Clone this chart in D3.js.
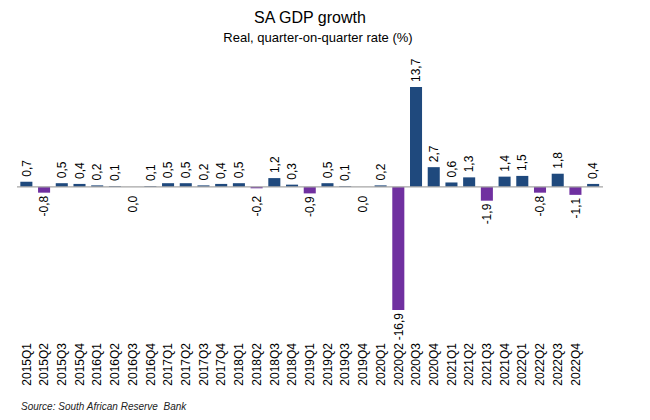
<!DOCTYPE html>
<html>
<head>
<meta charset="utf-8">
<script src="https://cdn.jsdelivr.net/npm/d3@7"></script>
<style>
  body { margin: 0; background: #fff; }
  text { font-family: "Liberation Sans", Arial, sans-serif; fill: #000; }
</style>
</head>
<body>
<div id="chart"></div>
<script>
// quarters (the last bar has no axis label in the original)
var quarters = ["2015Q1","2015Q2","2015Q3","2015Q4","2016Q1","2016Q2","2016Q3","2016Q4",
                "2017Q1","2017Q2","2017Q3","2017Q4","2018Q1","2018Q2","2018Q3","2018Q4",
                "2019Q1","2019Q2","2019Q3","2019Q4","2020Q1","2020Q2","2020Q3","2020Q4",
                "2021Q1","2021Q2","2021Q3","2021Q4","2022Q1","2022Q2","2022Q3","2022Q4","2023Q1"];
var growth = [0.7,-0.8,0.5,0.4,0.2,0.1,0.0,0.1,
              0.5,0.5,0.2,0.4,0.5,-0.2,1.2,0.3,
              -0.9,0.5,0.1,0.0,0.2,-16.9,13.7,2.7,
              0.6,1.3,-1.9,1.4,1.5,-0.8,1.8,-1.1,0.4];
var tickLabels = quarters.slice(0, 32);

var width = 650, height = 420;

var data = quarters.map(function(q, i) { return {q: q, v: growth[i]}; });

var svg = d3.select("#chart").append("svg")
    .attr("width", width)
    .attr("height", height);

var xScale = d3.scaleBand()
    .domain(quarters)
    .range([17.5, 602])
    .paddingInner(0.32)
    .paddingOuter(0.16);

var yScale = d3.scaleLinear()
    .domain([-16.9, 13.7])
    .range([310, 87]);

var fmt = function(v) { return d3.format(".1f")(v).replace(".", ",").replace("−", "-"); };

// bars
svg.selectAll("rect.bar")
    .data(data)
    .enter()
    .append("rect")
        .attr("class", "bar")
        .attr("x", function(d) { return xScale(d.q); })
        .attr("y", function(d) { return yScale(Math.max(0, d.v)); })
        .attr("width", xScale.bandwidth())
        .attr("height", function(d) { return Math.abs(yScale(d.v) - yScale(0)); })
        .attr("fill", function(d) { return d.v < 0 ? "#7030a0" : "#1f497d"; });

// zero line
svg.append("line")
    .attr("x1", 17)
    .attr("x2", 603)
    .attr("y1", yScale(0))
    .attr("y2", yScale(0))
    .attr("stroke", "#a6a6a6")
    .attr("stroke-width", 1.2);

// value labels
svg.selectAll("text.val")
    .data(data)
    .enter()
    .append("text")
        .attr("class", "val")
        .attr("transform", function(d) {
            var cx = xScale(d.q) + xScale.bandwidth() / 2;
            var y = d.v > 0 ? yScale(d.v) - 5 : Math.max(yScale(Math.min(0, d.v)) + 3, yScale(0) + 9);
            return "translate(" + cx + "," + y + ") rotate(-90)";
        })
        .attr("dy", "0.35em")
        .attr("text-anchor", function(d) { return d.v > 0 ? "start" : "end"; })
        .style("font-size", "12px")
        .text(function(d) { return fmt(d.v); });

// category axis labels
var xAxis = svg.append("g")
    .attr("transform", "translate(0,343)")
    .call(d3.axisBottom(xScale).tickValues(tickLabels).tickSize(0).tickPadding(0));
xAxis.select(".domain").remove();
xAxis.selectAll("text")
    .attr("transform", "rotate(-90)")
    .attr("x", 0)
    .attr("y", 0)
    .attr("dy", "0.35em")
    .attr("text-anchor", "end")
    .style("font-size", "12px")
    .style("font-family", "'Liberation Sans', Arial, sans-serif")
    .attr("fill", "#000");

// titles
svg.append("text")
    .attr("x", 310)
    .attr("y", 23)
    .attr("text-anchor", "middle")
    .style("font-size", "16px")
    .text("SA GDP growth");

svg.append("text")
    .attr("x", 318)
    .attr("y", 42)
    .attr("text-anchor", "middle")
    .style("font-size", "13px")
    .text("Real, quarter-on-quarter rate (%)");

svg.append("text")
    .attr("x", 21)
    .attr("y", 410)
    .style("font-size", "10px")
    .style("font-style", "italic")
    .style("fill", "#222")
    .attr("xml:space", "preserve")
    .text("Source: South African Reserve  Bank");
</script>
</body>
</html>
